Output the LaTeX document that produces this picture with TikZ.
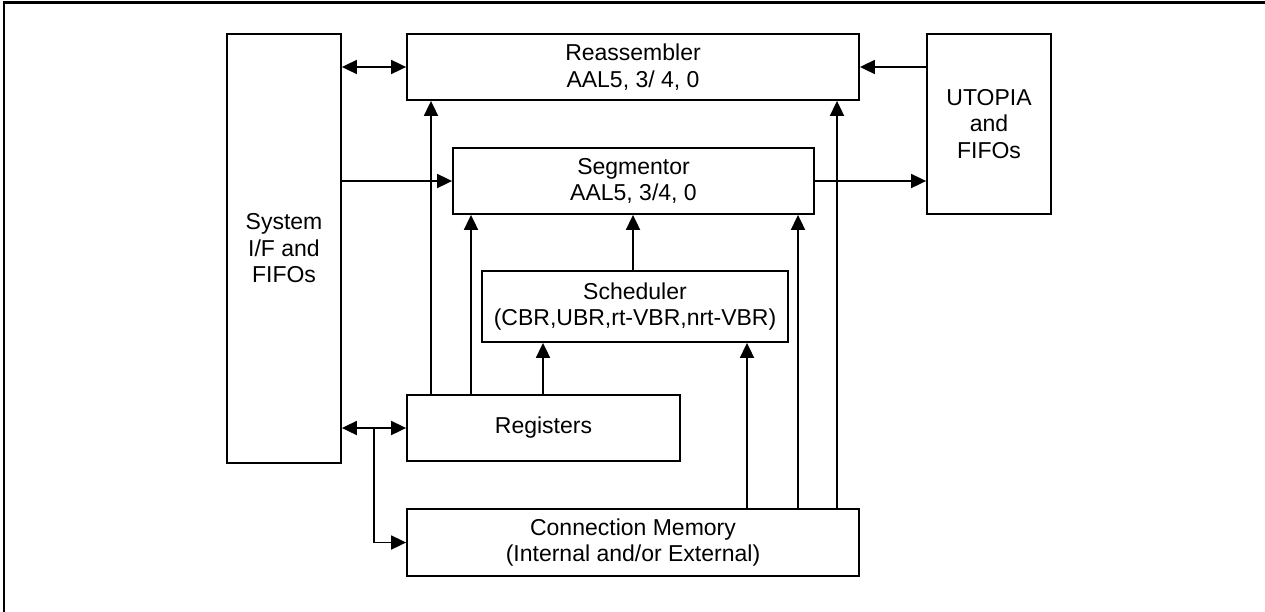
\documentclass[tikz,border=0pt]{standalone}
\usepackage{fontspec}
\setmainfont{Liberation Sans}
\usetikzlibrary{arrows.meta}
\begin{document}
\begin{tikzpicture}[x=1pt,y=-1pt,
  blk/.style={draw, line width=1.8pt, inner sep=0pt, align=center,
    font=\fontsize{23}{26.5}\selectfont},
  arr/.style={line width=1.8pt, -{Triangle[length=15pt,width=14pt]}},
  darr/.style={line width=1.8pt, {Triangle[length=15pt,width=14pt]}-{Triangle[length=15pt,width=14pt]}}]
\useasboundingbox (0,0) rectangle (1265,611);
\begin{scope}
\clip (0,0) rectangle (1265,611);
\draw[line width=2.6pt] (3.8,2.2) rectangle (1300,650);
\end{scope}

% blocks
\node[blk, minimum width=114pt, minimum height=429pt] (sys) at (284,248.5) {System\\I/F and\\FIFOs};
\node[blk, minimum width=452pt, minimum height=66pt] (reas) at (633,67) {Reassembler\\AAL5, 3/ 4, 0};
\node[blk, minimum width=124pt, minimum height=180pt] (utop) at (989,124) {UTOPIA\\and\\FIFOs};
\node[blk, minimum width=361pt, minimum height=66pt] (seg) at (633.5,181) {Segmentor\\AAL5, 3/4, 0};
\node[blk, minimum width=306pt, minimum height=71pt] (sch) at (635,306.5) {Scheduler\\ (CBR,UBR,rt-VBR,nrt-VBR)};
\node[blk, minimum width=273pt, minimum height=66pt] (reg) at (543.5,428) {Registers};
\node[blk, minimum width=452pt, minimum height=67pt] (cm) at (633,542.5) {Connection Memory\\(Internal and/or External)};

% vertical tracks
\coordinate (xa) at (431,0);
\coordinate (xb) at (471,0);
\coordinate (xc) at (543,0);
\coordinate (xd) at (633,0);
\coordinate (xe) at (747,0);
\coordinate (xf) at (798,0);
\coordinate (xg) at (837,0);
\coordinate (xj) at (374,0);

% horizontal links
\draw[darr] (sys.east |- reas.west) -- (reas.west);
\draw[arr] (utop.west |- reas.east) -- (reas.east);
\draw[arr] (sys.east |- seg.west) -- (seg.west);
\draw[arr] (seg.east) -- (utop.west |- seg.east);
\draw[darr] (sys.east |- reg.west) -- (reg.west);
\draw[arr] (xj |- reg.west) |- (cm.west);

% vertical links
\draw[arr] (reg.north -| xa) -- (reas.south -| xa);
\draw[arr] (reg.north -| xb) -- (seg.south -| xb);
\draw[arr] (reg.north -| xc) -- (sch.south -| xc);
\draw[arr] (sch.north -| xd) -- (seg.south -| xd);
\draw[arr] (cm.north -| xe) -- (sch.south -| xe);
\draw[arr] (cm.north -| xf) -- (seg.south -| xf);
\draw[arr] (cm.north -| xg) -- (reas.south -| xg);
\end{tikzpicture}
\end{document}
